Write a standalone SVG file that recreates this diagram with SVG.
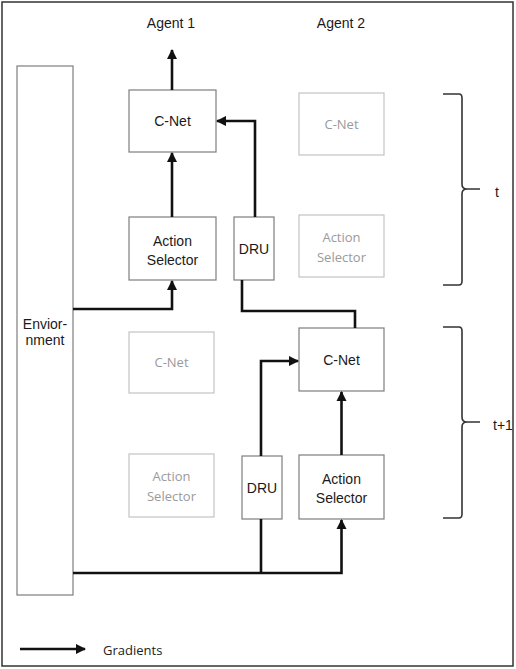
<svg xmlns="http://www.w3.org/2000/svg" width="516" height="669" viewBox="0 0 516 669">
  <style>
    .frame { fill: #ffffff; stroke: #333333; stroke-width: 1.5; }
    .box { fill: #ffffff; stroke: #7e7e7e; stroke-width: 1.2; }
    .ghost { fill: #ffffff; stroke: #c4c4c4; stroke-width: 1.2; }
    .lbl { font-family: "Liberation Sans", Arial, sans-serif; font-size: 14px; fill: #1a1a1a; text-anchor: middle; }
    .glbl { font-family: "Open Sans", "Noto Sans", sans-serif; font-size: 13px; fill: #9a9a9a; text-anchor: middle; }
    .leg { font-family: "Open Sans", "Noto Sans", sans-serif; font-size: 13px; fill: #222222; }
    .wire { fill: none; stroke: #111111; stroke-width: 2.6; }
    .brace { fill: none; stroke: #333333; stroke-width: 1.6; }
  </style>
  <defs>
    <marker id="head" viewBox="0 0 10 10" refX="9" refY="5" markerWidth="4" markerHeight="4" markerUnits="strokeWidth" orient="auto">
      <path d="M0,0 L10,5 L0,10 Z" fill="#111111"/>
    </marker>
  </defs>

  <rect class="frame" x="2" y="2" width="511" height="664"/>

  <text class="lbl" x="171" y="28">Agent 1</text>
  <text class="lbl" x="341" y="28">Agent 2</text>

  <g id="environment">
    <rect class="box" x="17" y="66" width="56" height="529"/>
    <text class="lbl" x="45" y="329">Envior-</text>
    <text class="lbl" x="45" y="345">nment</text>
  </g>

  <!-- time step t -->
  <g id="cnet-a1-t">
    <rect class="box" x="129" y="90" width="87" height="62"/>
    <text class="lbl" x="172.5" y="126">C-Net</text>
  </g>
  <g id="selector-a1-t">
    <rect class="box" x="129" y="217" width="87" height="63"/>
    <text class="lbl" x="172.5" y="246" font-size="13.5">Action</text>
    <text class="lbl" x="172.5" y="265" font-size="13.5">Selector</text>
  </g>
  <g id="dru-t">
    <rect class="box" x="234" y="217" width="40" height="63"/>
    <text class="lbl" x="254" y="254">DRU</text>
  </g>
  <g id="cnet-a2-t">
    <rect class="ghost" x="299" y="93" width="85" height="62"/>
    <text class="glbl" x="341.5" y="129">C-Net</text>
  </g>
  <g id="selector-a2-t">
    <rect class="ghost" x="299" y="215" width="85" height="62"/>
    <text class="glbl" x="341.5" y="242">Action</text>
    <text class="glbl" x="341.5" y="262">Selector</text>
  </g>

  <!-- time step t+1 -->
  <g id="cnet-a1-t1">
    <rect class="ghost" x="129" y="332" width="85" height="61"/>
    <text class="glbl" x="171.5" y="367">C-Net</text>
  </g>
  <g id="selector-a1-t1">
    <rect class="ghost" x="129" y="454" width="85" height="63"/>
    <text class="glbl" x="171.5" y="481">Action</text>
    <text class="glbl" x="171.5" y="501">Selector</text>
  </g>
  <g id="dru-t1">
    <rect class="box" x="242" y="456" width="40" height="63"/>
    <text class="lbl" x="262" y="493">DRU</text>
  </g>
  <g id="cnet-a2-t1">
    <rect class="box" x="299" y="328" width="85" height="63"/>
    <text class="lbl" x="341.5" y="365">C-Net</text>
  </g>
  <g id="selector-a2-t1">
    <rect class="box" x="299" y="455" width="85" height="64"/>
    <text class="lbl" x="341.5" y="484" font-size="13.5">Action</text>
    <text class="lbl" x="341.5" y="503" font-size="13.5">Selector</text>
  </g>

  <g id="connectors">
    <line class="wire" x1="172" y1="90" x2="172" y2="50" marker-end="url(#head)"/>
    <line class="wire" x1="172" y1="217" x2="172" y2="153" marker-end="url(#head)"/>
    <polyline class="wire" points="255,217 255,121 217,121" marker-end="url(#head)"/>
    <polyline class="wire" points="73,309 172,309 172,281" marker-end="url(#head)"/>
    <polyline class="wire" points="242,280 242,311 355,311 355,328"/>
    <polyline class="wire" points="261,456 261,361 298,361" marker-end="url(#head)"/>
    <line class="wire" x1="341.5" y1="455" x2="341.5" y2="392" marker-end="url(#head)"/>
    <polyline class="wire" points="73,573 341.5,573 341.5,520" marker-end="url(#head)"/>
    <line class="wire" x1="261" y1="519" x2="261" y2="573"/>
  </g>

  <g id="brace-t">
    <path class="brace" d="M443,94 L459,94 Q462,94 462,98 L462,184 Q462,189 467,189 L480,189 M467,189 Q462,189 462,194 L462,281 Q462,285 459,285 L443,285"/>
    <text class="lbl" x="497" y="197">t</text>
  </g>
  <g id="brace-t1">
    <path class="brace" d="M443,327 L459,327 Q462,327 462,331 L462,417 Q462,422 467,422 L480,422 M467,422 Q462,422 462,427 L462,514 Q462,518 459,518 L443,518"/>
    <text class="lbl" x="493" y="430" style="text-anchor:start">t+1</text>
  </g>

  <g id="legend">
    <line class="wire" x1="20" y1="649" x2="85" y2="649" marker-end="url(#head)"/>
    <text class="leg" x="103" y="655">Gradients</text>
  </g>
</svg>
